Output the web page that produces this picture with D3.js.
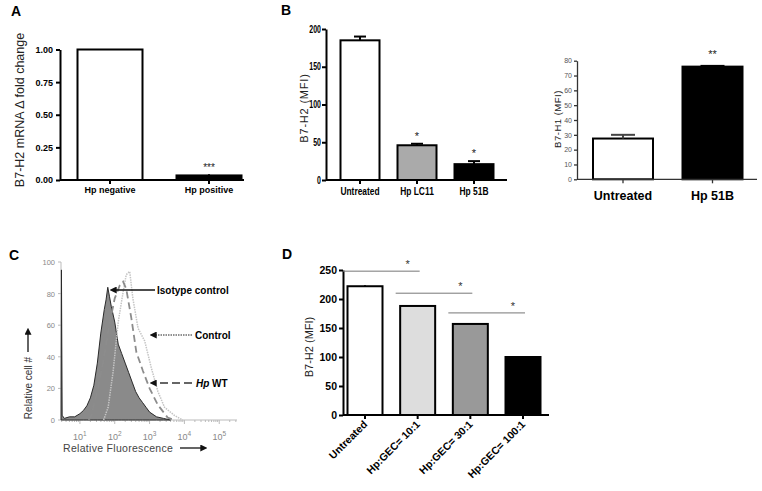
<!DOCTYPE html>
<html><head><meta charset="utf-8">
<script src="https://cdn.jsdelivr.net/npm/d3@7"></script>
<style>
body{margin:0;background:#fff;}
svg{display:block;font-family:"Liberation Sans",Arial,sans-serif;}
</style></head>
<body>
<svg id="chart" width="762" height="491"></svg>
<script>
// ---------- DATA ----------
// Panel A
const aCategories = ["Hp negative", "Hp positive"];
const aValues = [1.0, 0.035];
const aErrors = [0.003, 0.01];
const aStars = ["", "***"];
const aTicks = [0, 0.25, 0.5, 0.75, 1.0];
// Panel B (left)
const bCategories = ["Untreated", "Hp LC11", "Hp 51B"];
const bValues = [185, 46, 21];
const bErrors = [5, 2, 4];
const bStars = ["", "*", "*"];
const bTicks = [0, 50, 100, 150, 200];
// Panel B (right)
const b2Categories = ["Untreated", "Hp 51B"];
const b2Values = [27.5, 76];
const b2Errors = [2.5, 0.5];
const b2Stars = ["", "**"];
const b2Ticks = [0, 10, 20, 30, 40, 50, 60, 70, 80];
// Panel C histograms: [log10 fluorescence, relative cell #]
const cIsotype = [[0.46,0],[0.47,95],[0.49,3],[0.55,1],[0.7,2],[0.85,2],[1.0,4],[1.1,6],[1.2,9],[1.3,14],[1.4,22],[1.5,36],[1.6,55],[1.7,70],[1.75,76],[1.8,84],[1.85,78],[1.9,72],[2.0,62],[2.1,48],[2.2,42],[2.3,36],[2.4,30],[2.5,24],[2.6,18],[2.7,14],[2.8,11],[2.9,8],[3.0,5],[3.2,2],[3.4,1],[3.6,0]];
const cHpWT = [[1.25,0],[1.33,3],[1.52,20],[1.67,37],[1.86,62],[2.0,77],[2.14,85],[2.24,87.5],[2.33,83],[2.48,64],[2.62,43],[2.81,31],[3.0,20],[3.24,9.5],[3.52,1.5],[3.71,0]];
const cControl = [[1.68,0],[1.81,8],[1.95,30],[2.1,62],[2.24,81],[2.33,92],[2.43,94],[2.52,77],[2.67,58],[2.86,50],[3.05,33],[3.24,18],[3.43,8],[3.71,3],[3.95,0]];
const cYTicks = [0, 20, 40, 60, 80, 100];
const cXTicks = [1, 2, 3, 4, 5];
// Panel D
const dCategories = ["Untreated", "Hp:GEC= 10:1", "Hp:GEC= 30:1", "Hp:GEC= 100:1"];
const dValues = [222, 188, 157, 100];
const dErrors = [1.5, 1.5, 0.5, 1];
const dTicks = [0, 50, 100, 150, 200, 250];
const dSig = [{from:0, to:1, y:248, label:"*"}, {from:1, to:2, y:210, label:"*"}, {from:2, to:3, y:176, label:"*"}];

// ---------- DRAW ----------
const svg = d3.select("#chart");

function panelLabel(t, x, y) {
  svg.append("text").attr("x", x).attr("y", y).attr("font-size", 14).attr("font-weight", "bold").text(t);
}

function barPanel(o) {
  const g = svg.append("g");
  const y = d3.scaleLinear().domain(o.domain).range([o.y0, o.y1]);
  const x = d3.scalePoint().domain(o.cats).range([o.c0, o.c1]);
  o.cats.forEach((c, i) => {
    const v = o.values[i];
    g.append("rect").attr("x", x(c) - o.bw / 2).attr("y", y(v)).attr("width", o.bw).attr("height", y(0) - y(v))
      .attr("fill", o.colors[i]).attr("stroke", "#000").attr("stroke-width", o.bsw);
    const e = o.errors[i];
    const ec = o.errColor ? o.errColor[i] : "#000";
    g.append("line").attr("x1", x(c)).attr("x2", x(c)).attr("y1", y(v)).attr("y2", y(v + e)).attr("stroke", ec).attr("stroke-width", o.bsw);
    g.append("line").attr("x1", x(c) - o.cap).attr("x2", x(c) + o.cap).attr("y1", y(v + e)).attr("y2", y(v + e)).attr("stroke", ec).attr("stroke-width", o.bsw);
    if (o.stars && o.stars[i]) {
      g.append("text").attr("x", x(c)).attr("y", y(v + e) - o.starOff).attr("text-anchor", "middle")
        .attr("font-size", o.starSize).attr("fill", "#222").text(o.stars[i]);
    }
  });
  const ya = d3.axisLeft(y).tickValues(o.ticks).tickFormat(o.fmt).tickSize(o.tickLen).tickPadding(o.tickPad || 3).tickSizeOuter(0);
  const yg = g.append("g").attr("transform", `translate(${o.ax},0)`).call(ya);
  yg.select(".domain").attr("stroke", o.axisColor).attr("stroke-width", o.asw);
  yg.selectAll(".tick line").attr("stroke", o.axisColor).attr("stroke-width", o.asw);
  const tt = yg.selectAll(".tick text").attr("font-size", o.tickFont).attr("font-weight", o.tickWeight).attr("fill", o.tickColor)
    .attr("font-family", "Liberation Sans, Arial, sans-serif");
  if (o.tickSX) {
    tt.attr("transform", `scale(${o.tickSX},1)`).attr("x", -(o.tickLen + (o.tickPad || 3)) / o.tickSX);
  }
  g.append("line").attr("x1", o.ax).attr("x2", o.axEnd).attr("y1", y(0)).attr("y2", y(0)).attr("stroke", o.axisColor).attr("stroke-width", o.asw);
  o.cats.forEach(c => {
    g.append("line").attr("x1", x(c)).attr("x2", x(c)).attr("y1", y(0)).attr("y2", y(0) + 4).attr("stroke", o.axisColor).attr("stroke-width", o.asw);
  });
  o.cats.forEach(c => {
    if (o.rotate) {
      g.append("text").attr("transform", `translate(${x(c) + 3},${y(0) + 10}) rotate(-45)`).attr("text-anchor", "end")
        .attr("font-size", o.catFont).attr("font-weight", "bold").text(c);
    } else {
      g.append("text").attr("transform", `translate(${x(c)},${o.catY}) scale(${o.catSX || 1},1)`).attr("text-anchor", "middle")
        .attr("font-size", o.catFont).attr("font-weight", "bold").text(c);
    }
  });
  g.append("text").attr("transform", `translate(${o.ylx},${o.yly}) rotate(-90)`).attr("text-anchor", "middle")
    .attr("font-size", o.ylFont).attr("fill", "#222").attr("letter-spacing", o.ylSpacing || 0).text(o.ylabel);
  return {x, y, g};
}

// Panel A
panelLabel("A", 11, 16);
barPanel({cats: aCategories, values: aValues, errors: aErrors, stars: aStars, domain: [0, 1], y0: 180, y1: 49.5,
  c0: 110, c1: 209, bw: 65, bsw: 2, cap: 0, colors: ["#fff", "#000"], ticks: aTicks, fmt: d3.format(".2f"),
  ax: 60, axEnd: 244, tickLen: 4, axisColor: "#000", asw: 2, tickFont: 9, tickWeight: "bold", tickColor: "#000",
  catY: 193, catFont: 9, starOff: 3, starSize: 10, ylabel: "B7-H2 mRNA \u0394 fold change", ylx: 24, yly: 110, ylFont: 12.5});

// Panel B left
panelLabel("B", 281, 15);
barPanel({cats: bCategories, values: bValues, errors: bErrors, stars: bStars, domain: [0, 200], y0: 180, y1: 29,
  c0: 360, c1: 474, bw: 39, bsw: 2, cap: 6, colors: ["#fff", "#aaa", "#000"], ticks: bTicks, fmt: d3.format("d"),
  ax: 326, axEnd: 507, tickLen: 4, tickPad: 1, axisColor: "#000", asw: 2, tickFont: 10, tickWeight: "bold", tickColor: "#000", tickSX: 0.7,
  catY: 195, catFont: 10.5, catSX: 0.8, starOff: 4, starSize: 11, ylabel: "B7-H2 (MFI)", ylx: 308, yly: 108, ylFont: 11, ylSpacing: 0.8});

// Panel B right
barPanel({cats: b2Categories, values: b2Values, errors: b2Errors, stars: b2Stars, domain: [0, 80], y0: 179.3, y1: 60.7,
  c0: 623, c1: 712.5, bw: 60, bsw: 2, cap: 12, colors: ["#fff", "#000"], errColor: ["#444", "#000"], ticks: b2Ticks, fmt: d3.format("d"),
  ax: 577, axEnd: 757, tickLen: 3, tickPad: 2, axisColor: "#333", asw: 1.3, tickFont: 7, tickWeight: "normal", tickColor: "#555",
  catY: 200, catFont: 12.5, starOff: 8, starSize: 11, ylabel: "B7-H1 (MFI)", ylx: 561, yly: 119, ylFont: 9.5, ylSpacing: 0.5});

// Panel C
panelLabel("C", 9, 260);
(function () {
  const g = svg.append("g");
  const x = d3.scaleLinear().domain([0.457, 5.51]).range([61, 237]);
  const y = d3.scaleLinear().domain([0, 100]).range([420, 262]);
  g.append("line").attr("x1", 61).attr("x2", 61).attr("y1", y(0)).attr("y2", y(100)).attr("stroke", "#bbb").attr("stroke-width", 1);
  g.append("line").attr("x1", 61).attr("x2", 237).attr("y1", y(0)).attr("y2", y(0)).attr("stroke", "#bbb").attr("stroke-width", 1);
  cYTicks.forEach(t => {
    g.append("line").attr("x1", 58).attr("x2", 61).attr("y1", y(t)).attr("y2", y(t)).attr("stroke", "#bbb");
    g.append("text").attr("x", 55).attr("y", y(t) + 3).attr("text-anchor", "end").attr("font-size", 7.5).attr("fill", "#888").text(t);
  });
  for (let d = 0; d <= 5; d++) {
    for (let m = 2; m <= 9; m++) {
      const lv = d + Math.log10(m);
      if (lv >= 0.457 && lv <= 5.51) {
        g.append("line").attr("x1", x(lv)).attr("x2", x(lv)).attr("y1", y(0)).attr("y2", y(0) + 2).attr("stroke", "#bbb");
      }
    }
  }
  cXTicks.forEach(t => {
    g.append("line").attr("x1", x(t)).attr("x2", x(t)).attr("y1", y(0)).attr("y2", y(0) + 4).attr("stroke", "#bbb");
    const tx = g.append("text").attr("x", x(t)).attr("y", 440).attr("text-anchor", "middle").attr("font-size", 9).attr("fill", "#888");
    tx.append("tspan").text("10");
    tx.append("tspan").attr("dy", -4).attr("font-size", 6.5).text(t);
  });
  const line = d3.line().x(d => x(d[0])).y(d => y(d[1]));
  const area = d3.area().x(d => x(d[0])).y0(y(0)).y1(d => y(d[1]));
  g.append("path").attr("d", area(cIsotype)).attr("fill", "#8a8a8a").attr("stroke", "#2a2a2a").attr("stroke-width", 1);
  g.append("path").attr("d", line(cControl)).attr("fill", "none").attr("stroke", "#c4c4c4").attr("stroke-width", 1.5).attr("stroke-dasharray", "1.5,1");
  g.append("path").attr("d", line(cHpWT)).attr("fill", "none").attr("stroke", "#8c8c8c").attr("stroke-width", 1.8).attr("stroke-dasharray", "7,4");

  const defs = svg.append("defs");
  defs.append("marker").attr("id", "ah").attr("viewBox", "0 0 10 10").attr("refX", 1).attr("refY", 5)
    .attr("markerWidth", 7).attr("markerHeight", 7).attr("markerUnits", "userSpaceOnUse").attr("orient", "auto-start-reverse")
    .append("path").attr("d", "M0,0 L10,5 L0,10 z").attr("fill", "#111");
  function arrow(x1, x2, yy, dash, col, sw) {
    g.append("line").attr("x1", x1).attr("x2", x2).attr("y1", yy).attr("y2", yy).attr("stroke", col).attr("stroke-width", sw)
      .attr("stroke-dasharray", dash).attr("marker-end", "url(#ah)");
  }
  arrow(155, 116, 290, null, "#111", 1.3);
  g.append("text").attr("x", 157).attr("y", 294).attr("font-size", 10).attr("font-weight", "bold").text("Isotype control");
  arrow(192, 156, 335, "1.5,1", "#222", 1);
  g.append("text").attr("x", 195).attr("y", 339).attr("font-size", 10).attr("font-weight", "bold").text("Control");
  arrow(192, 156, 383, "8,4", "#666", 1.8);
  const hp = g.append("text").attr("x", 196).attr("y", 387).attr("font-size", 10).attr("font-weight", "bold");
  hp.append("tspan").attr("font-style", "italic").text("Hp");
  hp.append("tspan").text(" WT");
  g.append("text").attr("x", 63).attr("y", 452).attr("font-size", 10.5).attr("fill", "#444").attr("letter-spacing", 0.3).text("Relative Fluorescence");
  g.append("line").attr("x1", 180).attr("x2", 201).attr("y1", 448).attr("y2", 448).attr("stroke", "#111").attr("stroke-width", 1.3).attr("marker-end", "url(#ah)");
  g.append("text").attr("transform", "translate(32,388) rotate(-90)").attr("text-anchor", "middle").attr("font-size", 10).attr("fill", "#333").text("Relative cell #");
  g.append("line").attr("x1", 28).attr("x2", 28).attr("y1", 352).attr("y2", 334).attr("stroke", "#111").attr("stroke-width", 1.3).attr("marker-end", "url(#ah)");
})();

// Panel D
panelLabel("D", 282, 259);
const pd = barPanel({cats: dCategories, values: dValues, errors: dErrors, domain: [0, 250], y0: 415, y1: 270,
  c0: 365, c1: 523, bw: 35, bsw: 2, cap: 0, colors: ["#fff", "#ddd", "#999", "#000"], ticks: dTicks, fmt: d3.format("d"),
  ax: 343, axEnd: 549, tickLen: 4, tickPad: 2, axisColor: "#000", asw: 2, tickFont: 10.5, tickWeight: "bold", tickColor: "#000",
  rotate: true, catFont: 10.5, ylabel: "B7-H2 (MFI)", ylx: 313, yly: 347, ylFont: 11});
dSig.forEach(s => {
  const x1 = pd.x(dCategories[s.from]) - 22, x2 = pd.x(dCategories[s.to]) + 2;
  pd.g.append("line").attr("x1", x1).attr("x2", x2).attr("y1", pd.y(s.y)).attr("y2", pd.y(s.y)).attr("stroke", "#777").attr("stroke-width", 1);
  pd.g.append("text").attr("x", x2 - 12).attr("y", pd.y(s.y) - 3).attr("text-anchor", "middle").attr("font-size", 11).attr("fill", "#333").text(s.label);
});
</script>
</body></html>
